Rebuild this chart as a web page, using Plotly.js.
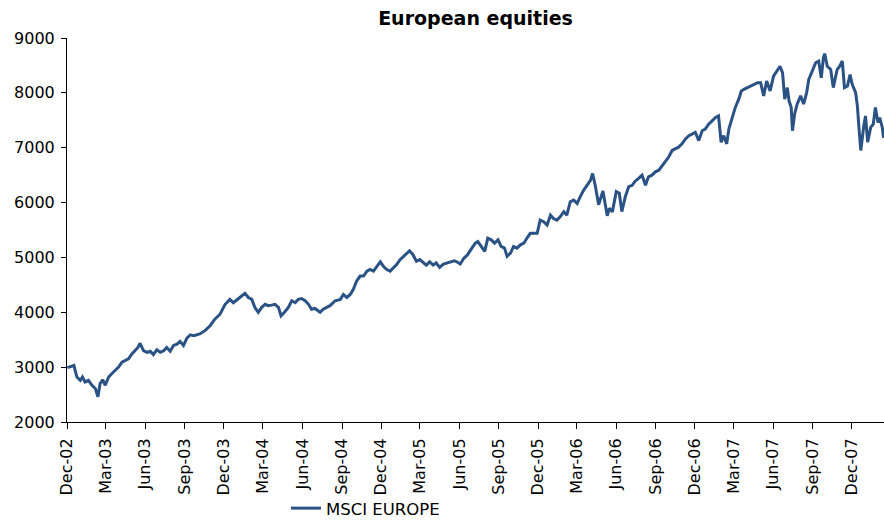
<!DOCTYPE html>
<html>
<head>
<meta charset="utf-8">
<script src="https://cdn.plot.ly/plotly-3.0.1.min.js"></script>
<style>
  html, body { margin: 0; padding: 0; background: #fff; }
  #chart { width: 884px; height: 526px; }
</style>
</head>
<body>
<div id="chart"></div>
<script>
// MSCI Europe index level (roughly weekly)
var dates = [
  '2002-12-02','2002-12-09','2002-12-17','2002-12-24','2003-01-01','2003-01-06','2003-01-12','2003-01-20',
  '2003-01-28','2003-02-05','2003-02-11','2003-02-16','2003-02-22','2003-02-28','2003-03-08','2003-03-15',
  '2003-03-23','2003-03-31','2003-04-08','2003-04-15','2003-04-23','2003-05-01','2003-05-09','2003-05-15',
  '2003-05-20','2003-05-28','2003-06-05','2003-06-13','2003-06-20','2003-06-28','2003-07-06','2003-07-14',
  '2003-07-21','2003-07-29','2003-08-06','2003-08-14','2003-08-21','2003-08-29','2003-09-06','2003-09-14',
  '2003-09-22','2003-10-06','2003-10-18','2003-10-30','2003-11-10','2003-11-22','2003-12-04','2003-12-15',
  '2003-12-23','2003-12-31','2004-01-07','2004-01-19','2004-01-27','2004-02-04','2004-02-11','2004-02-19',
  '2004-02-27','2004-03-06','2004-03-13','2004-03-21','2004-03-29','2004-04-06','2004-04-12','2004-04-20',
  '2004-04-29','2004-05-07','2004-05-15','2004-05-22','2004-05-30','2004-06-07','2004-06-15','2004-06-22',
  '2004-06-30','2004-07-12','2004-07-19','2004-08-04','2004-08-16','2004-08-28','2004-09-04','2004-09-12',
  '2004-09-20','2004-09-27','2004-10-05','2004-10-13','2004-10-21','2004-10-29','2004-11-05','2004-11-13',
  '2004-11-21','2004-11-29','2004-12-06','2004-12-14','2004-12-22','2004-12-30','2005-01-06','2005-01-14',
  '2005-01-22','2005-01-31','2005-02-05','2005-02-13','2005-02-21','2005-03-01','2005-03-08','2005-03-16',
  '2005-03-24','2005-04-01','2005-04-08','2005-04-16','2005-04-25','2005-05-03','2005-05-11','2005-05-20',
  '2005-05-26','2005-06-03','2005-06-11','2005-06-20','2005-06-30','2005-07-08','2005-07-14','2005-07-22',
  '2005-07-30','2005-08-06','2005-08-14','2005-08-22','2005-08-30','2005-09-06','2005-09-14','2005-09-20',
  '2005-09-28','2005-10-05','2005-10-13','2005-10-21','2005-10-29','2005-11-05','2005-11-13','2005-11-21',
  '2005-11-29','2005-12-06','2005-12-14','2005-12-22','2005-12-30','2006-01-06','2006-01-14','2006-01-22',
  '2006-01-30','2006-02-06','2006-02-14','2006-02-22','2006-03-02','2006-03-09','2006-03-17','2006-03-25',
  '2006-04-02','2006-04-07','2006-04-13','2006-04-21','2006-05-01','2006-05-11','2006-05-16','2006-05-23',
  '2006-06-01','2006-06-08','2006-06-14','2006-06-22','2006-06-30','2006-07-08','2006-07-15','2006-07-23',
  '2006-07-31','2006-08-08','2006-08-15','2006-08-23','2006-08-31','2006-09-08','2006-09-16','2006-09-24',
  '2006-10-01','2006-10-09','2006-10-17','2006-10-24','2006-11-01','2006-11-09','2006-11-17','2006-11-24',
  '2006-12-02','2006-12-10','2006-12-18','2006-12-25','2007-01-02','2007-01-10','2007-01-18','2007-01-25',
  '2007-01-31','2007-02-06','2007-02-13','2007-02-18','2007-02-26','2007-03-05','2007-03-13','2007-03-19',
  '2007-03-25','2007-04-02','2007-04-10','2007-04-18','2007-04-26','2007-05-03','2007-05-10','2007-05-17',
  '2007-05-25','2007-06-02','2007-06-09','2007-06-17','2007-06-23','2007-06-28','2007-07-04','2007-07-08',
  '2007-07-13','2007-07-16','2007-07-21','2007-07-27','2007-08-04','2007-08-11','2007-08-18','2007-08-23',
  '2007-08-31','2007-09-08','2007-09-15','2007-09-21','2007-09-26','2007-09-29','2007-10-05','2007-10-13',
  '2007-10-19','2007-10-28','2007-11-03','2007-11-09','2007-11-14','2007-11-21','2007-11-27','2007-12-02',
  '2007-12-10','2007-12-14','2007-12-18','2007-12-22','2007-12-29','2008-01-02','2008-01-07','2008-01-14',
  '2008-01-20','2008-01-25','2008-01-31','2008-02-04','2008-02-10','2008-02-13'
];

var msciEurope = [
  2990,3015,3030,2820,2760,2820,2730,2760,
  2670,2610,2460,2700,2770,2670,2820,2880,
  2940,3000,3090,3120,3150,3240,3300,3360,
  3435,3300,3270,3290,3230,3315,3270,3300,
  3360,3290,3395,3420,3470,3395,3530,3590,
  3575,3605,3665,3755,3875,3965,4145,4235,
  4175,4235,4270,4345,4270,4235,4090,4000,
  4090,4145,4120,4130,4145,4090,3935,4000,
  4090,4210,4175,4235,4250,4210,4145,4055,
  4070,4000,4055,4120,4210,4235,4325,4270,
  4325,4415,4570,4660,4660,4750,4780,4750,
  4840,4920,4840,4780,4750,4810,4870,4960,
  5020,5080,5120,5050,4930,4960,4920,4860,
  4920,4860,4900,4820,4880,4900,4920,4940,
  4920,4880,4980,5050,5170,5260,5290,5200,
  5110,5350,5320,5260,5320,5200,5170,5020,
  5080,5200,5170,5230,5260,5350,5440,5440,
  5440,5680,5650,5590,5770,5710,5680,5745,
  5835,5770,6015,6045,5985,6105,6225,6315,
  6405,6530,6315,5960,6210,5760,5895,5830,
  6200,6170,5835,6105,6290,6315,6390,6440,
  6500,6315,6470,6500,6560,6590,6680,6760,
  6830,6950,6980,7010,7070,7160,7220,7250,
  7280,7130,7310,7340,7430,7490,7550,7580,
  7100,7220,7070,7340,7550,7735,7885,8035,
  8065,8095,8125,8155,8185,8185,7945,8215,
  8035,8305,8395,8485,8365,7885,8095,7855,
  7735,7310,7615,7795,7945,7795,8005,8245,
  8395,8550,8580,8275,8640,8715,8485,8425,
  8095,8425,8485,8580,8095,8125,8335,8155,
  8005,7765,7340,6950,7400,7580,7100,7370,
  7430,7735,7460,7550,7370,7180
];

var tickDates = [
  '2002-12-01','2003-03-01','2003-06-01','2003-09-01','2003-12-01','2004-03-01','2004-06-01',
  '2004-09-01','2004-12-01','2005-03-01','2005-06-01','2005-09-01','2005-12-01','2006-03-01',
  '2006-06-01','2006-09-01','2006-12-01','2007-03-01','2007-06-01','2007-09-01','2007-12-01'
];
var tickLabels = [
  'Dec-02','Mar-03','Jun-03','Sep-03','Dec-03','Mar-04','Jun-04',
  'Sep-04','Dec-04','Mar-05','Jun-05','Sep-05','Dec-05','Mar-06',
  'Jun-06','Sep-06','Dec-06','Mar-07','Jun-07','Sep-07','Dec-07'
];

var trace = {
  x: dates,
  y: msciEurope,
  name: 'MSCI EUROPE',
  type: 'scatter',
  mode: 'lines',
  line: {color: '#2a5285', width: 3}
};

var layout = {
  width: 884,
  height: 526,
  margin: {l: 67, r: 0, t: 38, b: 100},
  paper_bgcolor: '#fff',
  plot_bgcolor: '#fff',
  font: {family: 'DejaVu Sans, sans-serif', size: 16, color: '#000'},
  title: {
    text: '<b>European equities</b>',
    font: {family: 'DejaVu Sans, sans-serif', size: 19, color: '#000'},
    x: 0.5, xref: 'paper', xanchor: 'center',
    y: 0.965, yref: 'container', yanchor: 'middle'
  },
  showlegend: true,
  legend: {
    orientation: 'h',
    x: 0.268, xanchor: 'left',
    y: -0.225, yanchor: 'middle',
    font: {size: 16.5},
    bgcolor: 'rgba(0,0,0,0)'
  },
  xaxis: {
    type: 'date',
    range: ['2002-12-01', '2008-02-14'],
    tickmode: 'array',
    tickvals: tickDates,
    ticktext: tickLabels,
    tickangle: -90,
    ticks: 'outside',
    ticklen: 6,
    tickcolor: '#000',
    ticklabelstandoff: 3,
    showline: true,
    linecolor: '#000',
    linewidth: 1,
    showgrid: false,
    zeroline: false,
    fixedrange: true
  },
  yaxis: {
    range: [2000, 9000],
    dtick: 1000,
    tick0: 2000,
    ticks: 'outside',
    ticklen: 5,
    tickcolor: '#000',
    ticklabelstandoff: 3,
    showline: true,
    linecolor: '#000',
    linewidth: 1,
    showgrid: false,
    zeroline: false,
    fixedrange: true
  }
};

Plotly.newPlot('chart', [trace], layout, {displayModeBar: false, staticPlot: true});
</script>
</body>
</html>
